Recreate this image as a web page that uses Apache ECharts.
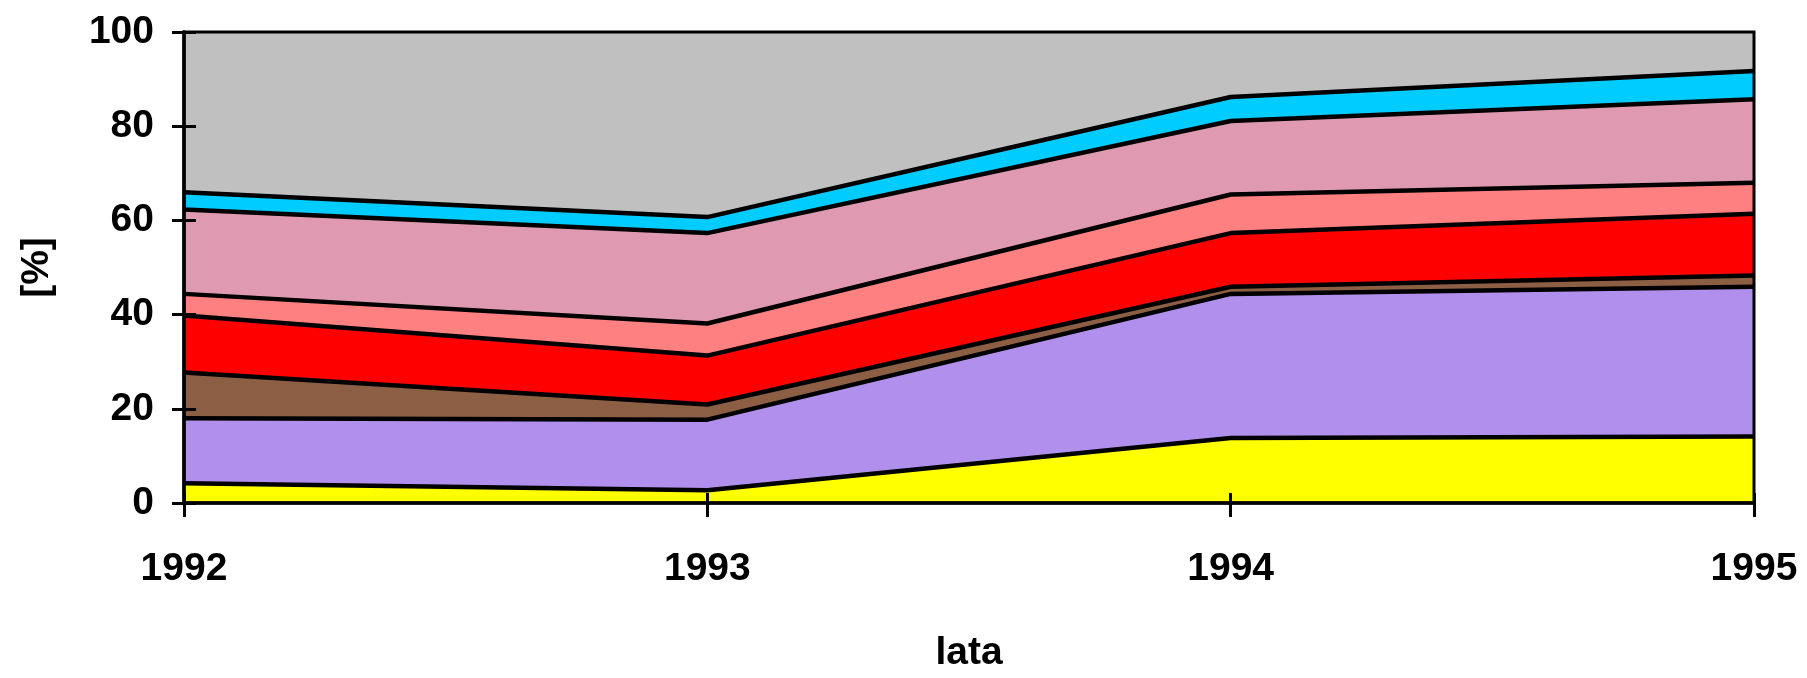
<!DOCTYPE html>
<html>
<head>
<meta charset="utf-8">
<script src="https://cdn.jsdelivr.net/npm/echarts@6/dist/echarts.min.js"></script>
<style>html,body{margin:0;padding:0;background:#fff;}#c{width:1807px;height:678px;}</style>
</head>
<body>
<div id="c"></div>
<script>
const years = ['1992', '1993', '1994', '1995'];
const sYellow = [4.2, 2.7, 13.8, 14.1];
const sPurple = [13.8, 15.0, 30.6, 31.8];
const sBrown = [9.7, 3.2, 1.5, 2.4];
const sRed = [12.1, 10.4, 11.4, 13.1];
const sSalmon = [4.6, 6.8, 8.2, 6.6];
const sPink = [17.9, 19.2, 15.6, 17.7];
const sCyan = [3.7, 3.4, 5.1, 6.0];
const sGrey = [34.0, 39.3, 13.8, 8.3];
const yTicks = [0, 20, 40, 60, 80, 100];

const FONT = '"Liberation Sans", Arial, sans-serif';
const layers = [
  {data: sYellow, color: '#FFFF00'},
  {data: sPurple, color: '#B18FEC'},
  {data: sBrown, color: '#8C5E44'},
  {data: sRed, color: '#FF0000'},
  {data: sSalmon, color: '#FF8080'},
  {data: sPink, color: '#DF9AB2'},
  {data: sCyan, color: '#00CCFF'},
  {data: sGrey, color: '#C0C0C0'}
];
const chart = echarts.init(document.getElementById('c'), null, {renderer: 'canvas'});
const labelStyle = {color: '#000', fontFamily: FONT, fontWeight: 'bold', fontSize: 39};
const areaSeries = layers.map((l, i) => ({
  type: 'line', stack: 'areas', data: l.data, symbol: 'none',
  lineStyle: {width: 0, opacity: 0},
  areaStyle: {color: l.color, opacity: 1},
  z: 2
}));
const lineSeries = layers.slice(0, layers.length - 1).map((l, i) => ({
  type: 'line', stack: 'lines', data: l.data, symbol: 'none',
  lineStyle: {color: '#000', width: 4.5},
  z: 5
}));
chart.setOption({
  animation: false,
  grid: {left: 184, right: 53, top: 32, bottom: 171, show: true, borderColor: '#000', borderWidth: 3, backgroundColor: 'transparent', z: 8},
  xAxis: [{
    type: 'category', data: years, boundaryGap: false, z: 9,
    axisLine: {lineStyle: {color: '#000', width: 3.5}},
    axisTick: {inside: false, length: 14, lineStyle: {color: '#000', width: 3}},
    axisLabel: Object.assign({margin: 47}, labelStyle),
    name: 'lata', nameLocation: 'middle', nameGap: 131,
    nameTextStyle: labelStyle
  }, {
    type: 'category', data: years, boundaryGap: false, position: 'bottom', z: 9,
    axisLine: {show: false},
    axisTick: {inside: true, length: 10, lineStyle: {color: '#000', width: 3}},
    axisLabel: {show: false}
  }],
  yAxis: [{
    type: 'value', min: yTicks[0], max: yTicks[yTicks.length - 1], interval: 20, z: 9,
    axisLine: {show: true, lineStyle: {color: '#000', width: 3.5}},
    axisTick: {show: true, inside: false, length: 12, lineStyle: {color: '#000', width: 3}},
    splitLine: {show: false},
    axisLabel: Object.assign({margin: 30}, labelStyle),
    name: '[%]', nameLocation: 'middle', nameGap: 127, nameRotate: 90,
    nameTextStyle: labelStyle
  }, {
    type: 'value', min: yTicks[0], max: yTicks[yTicks.length - 1], interval: 20, position: 'left', z: 9,
    axisLine: {show: false},
    axisTick: {show: true, inside: true, length: 12, lineStyle: {color: '#000', width: 3}},
    splitLine: {show: false},
    axisLabel: {show: false}
  }],
  series: areaSeries.concat(lineSeries)
});
</script>
</body>
</html>
